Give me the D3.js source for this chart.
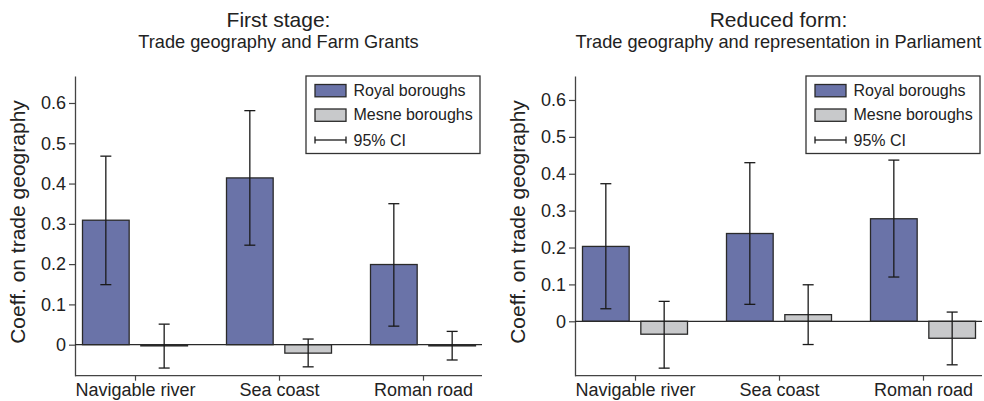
<!DOCTYPE html>
<html>
<head>
<meta charset="utf-8">
<script src="https://cdn.jsdelivr.net/npm/d3@7"></script>
<style>
    body { margin: 0; background: #fff; }
    svg { display: block; font-family: 'Liberation Sans', Arial, sans-serif; }
</style>
</head>
<body>
<svg id="chart" width="984" height="401"></svg>
<script>
const categories = ['Navigable river', 'Sea coast', 'Roman road'];
const seriesNames = ['Royal boroughs', 'Mesne boroughs'];
const yTickValues = [0, 0.1, 0.2, 0.3, 0.4, 0.5, 0.6];

// First stage: trade geography and Farm Grants
const firstRoyal = [0.309, 0.414, 0.199];
const firstRoyalLow = [0.149, 0.247, 0.046];
const firstRoyalHigh = [0.468, 0.581, 0.350];
const firstMesne = [-0.003, -0.021, -0.003];
const firstMesneLow = [-0.058, -0.055, -0.038];
const firstMesneHigh = [0.051, 0.014, 0.033];

// Reduced form: trade geography and representation in Parliament
const reducedRoyal = [0.203, 0.238, 0.278];
const reducedRoyalLow = [0.034, 0.046, 0.120];
const reducedRoyalHigh = [0.373, 0.430, 0.437];
const reducedMesne = [-0.035, 0.018, -0.046];
const reducedMesneLow = [-0.127, -0.063, -0.118];
const reducedMesneHigh = [0.054, 0.099, 0.025];

const colors = { 'Royal boroughs': '#6a73a8', 'Mesne boroughs': '#c8c9cb' };
const ink = '#222';

const svg = d3.select('#chart');
svg.append('rect').attr('width', 984).attr('height', 401).attr('fill', '#fff');

const buildRows = (royal, royalLow, royalHigh, mesne, mesneLow, mesneHigh) => {
    const rows = [];
    categories.forEach((cat, i) => {
        rows.push({ cat, series: seriesNames[0], value: royal[i], low: royalLow[i], high: royalHigh[i] });
        rows.push({ cat, series: seriesNames[1], value: mesne[i], low: mesneLow[i], high: mesneHigh[i] });
    });
    return rows;
}

const drawPanel = (left, yDomain, title, subtitle, rows) => {
    const top = 76;
    const bottom = 375.7;
    const width = 407;

    const g = svg.append('g').attr('transform', `translate(${left},0)`);

    const x = d3.scalePoint().domain(categories).range([60, 348]);
    const xInner = d3.scaleBand().domain(seriesNames).range([-52.5, 52.5]).paddingInner(0.2);
    const y = d3.scaleLinear().domain(yDomain).range([bottom, top]);

    // titles
    g.append('text')
        .attr('x', width / 2)
        .attr('y', 27)
        .attr('text-anchor', 'middle')
        .attr('font-size', 21)
        .attr('fill', ink)
        .text(title);

    g.append('text')
        .attr('x', width / 2)
        .attr('y', 47.5)
        .attr('text-anchor', 'middle')
        .attr('font-size', 18.2)
        .attr('fill', ink)
        .text(subtitle);

    // y axis
    const yAxis = g.append('g')
        .call(d3.axisLeft(y).tickValues(yTickValues).tickSize(6).tickSizeOuter(0).tickPadding(3).tickFormat(d3.format('')));
    yAxis.select('.domain').attr('stroke', '#444').attr('stroke-width', 1.3);
    yAxis.selectAll('.tick line').attr('stroke', '#444').attr('stroke-width', 1.2);
    yAxis.selectAll('.tick text').attr('font-size', 18).attr('fill', ink).attr('font-family', null);

    g.append('text')
        .attr('transform', `translate(-50,222) rotate(-90)`)
        .attr('text-anchor', 'middle')
        .attr('font-size', 21)
        .attr('fill', ink)
        .text('Coeff. on trade geography');

    // x axis
    const xAxis = g.append('g')
        .attr('transform', `translate(0,${bottom})`)
        .call(d3.axisBottom(x).tickSize(5).tickSizeOuter(0).tickPadding(3));
    xAxis.select('.domain').remove();
    xAxis.selectAll('.tick line').attr('stroke', '#444').attr('stroke-width', 1.2);
    xAxis.selectAll('.tick text').attr('font-size', 18).attr('fill', ink).attr('font-family', null);

    g.append('line')
        .attr('x1', 0)
        .attr('x2', width)
        .attr('y1', bottom)
        .attr('y2', bottom)
        .attr('stroke', '#444')
        .attr('stroke-width', 1.3);

    // bars
    g.append('g')
        .selectAll('rect')
        .data(rows)
        .enter()
        .append('rect')
        .attr('x', d => x(d.cat) + xInner(d.series))
        .attr('width', xInner.bandwidth())
        .attr('y', d => y(Math.max(0, d.value)))
        .attr('height', d => Math.abs(y(d.value) - y(0)))
        .attr('fill', d => colors[d.series])
        .attr('stroke', '#2a2a2a')
        .attr('stroke-width', 1.3);

    // zero line
    g.append('line')
        .attr('x1', 0)
        .attr('x2', width)
        .attr('y1', y(0))
        .attr('y2', y(0))
        .attr('stroke', '#2a2a2a')
        .attr('stroke-width', 1.3);

    // error bars
    const cap = 5.5;
    const errors = g.append('g')
        .selectAll('g')
        .data(rows)
        .enter()
        .append('g')
        .attr('stroke', '#1a1a1a')
        .attr('stroke-width', 1.3);

    const cx = d => x(d.cat) + xInner(d.series) + xInner.bandwidth() / 2;

    errors.append('line')
        .attr('x1', cx).attr('x2', cx)
        .attr('y1', d => y(d.low)).attr('y2', d => y(d.high));
    errors.append('line')
        .attr('x1', d => cx(d) - cap).attr('x2', d => cx(d) + cap)
        .attr('y1', d => y(d.low)).attr('y2', d => y(d.low));
    errors.append('line')
        .attr('x1', d => cx(d) - cap).attr('x2', d => cx(d) + cap)
        .attr('y1', d => y(d.high)).attr('y2', d => y(d.high));

    // legend
    const legend = g.append('g').attr('transform', 'translate(231,76)');
    legend.append('rect')
        .attr('width', 174)
        .attr('height', 77.5)
        .attr('fill', '#fff')
        .attr('stroke', '#333')
        .attr('stroke-width', 1.3);

    seriesNames.forEach((name, i) => {
        legend.append('rect')
            .attr('x', 9)
            .attr('y', 8.5 + i * 24.5)
            .attr('width', 31)
            .attr('height', 12.3)
            .attr('fill', colors[name])
            .attr('stroke', '#2a2a2a')
            .attr('stroke-width', 1.3);
        legend.append('text')
            .attr('x', 47.5)
            .attr('y', 19.5 + i * 24.5)
            .attr('font-size', 16)
            .attr('fill', ink)
            .text(name);
    });

    const ciY = 64;
    legend.append('line').attr('x1', 9).attr('x2', 40).attr('y1', ciY).attr('y2', ciY)
        .attr('stroke', '#1a1a1a').attr('stroke-width', 1.3);
    legend.append('line').attr('x1', 9).attr('x2', 9).attr('y1', ciY - 3.5).attr('y2', ciY + 3.5)
        .attr('stroke', '#1a1a1a').attr('stroke-width', 1.3);
    legend.append('line').attr('x1', 40).attr('x2', 40).attr('y1', ciY - 3.5).attr('y2', ciY + 3.5)
        .attr('stroke', '#1a1a1a').attr('stroke-width', 1.3);
    legend.append('text')
        .attr('x', 47.5)
        .attr('y', 69.5)
        .attr('font-size', 16)
        .attr('fill', ink)
        .text('95% CI');
}

drawPanel(75, [-0.077, 0.667], 'First stage:', 'Trade geography and Farm Grants',
    buildRows(firstRoyal, firstRoyalLow, firstRoyalHigh, firstMesne, firstMesneLow, firstMesneHigh));

drawPanel(575, [-0.1475, 0.665], 'Reduced form:', 'Trade geography and representation in Parliament',
    buildRows(reducedRoyal, reducedRoyalLow, reducedRoyalHigh, reducedMesne, reducedMesneLow, reducedMesneHigh));
</script>
</body>
</html>
